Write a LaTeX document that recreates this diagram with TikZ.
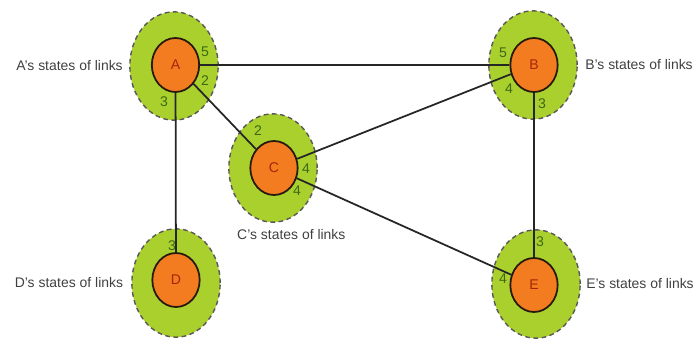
\documentclass[tikz,border=0pt]{standalone}
\usepackage{fontspec}
\setmainfont{Liberation Sans}
\usetikzlibrary{positioning,shapes.geometric}

\definecolor{ringgreen}{RGB}{170,208,46}
\definecolor{nodeorange}{RGB}{244,124,32}
\definecolor{portgreen}{RGB}{62,104,22}
\definecolor{letterred}{RGB}{160,40,12}

\begin{document}
\begin{tikzpicture}[
    x=0.03cm, y=-0.03cm,
    ring/.style={ellipse, draw=black!65, dash pattern=on 4pt off 3pt, line width=1.2pt, fill=ringgreen, minimum width=2.65cm, minimum height=3.25cm},
    router/.style={ellipse, draw=black!80!brown, fill=nodeorange, line width=1.5pt, minimum width=1.42cm, minimum height=1.62cm, inner sep=0pt, font=\fontsize{12}{14}\selectfont, text=letterred},
    port/.style={font=\fontsize{12}{14}\selectfont, text=portgreen, inner sep=0pt},
    statetext/.style={font=\fontsize{11.9}{14}\selectfont, text=black!75, inner sep=1pt},
    link/.style={line width=1.5pt, draw=black!85}
]
    \useasboundingbox (0,0) rectangle (696,339);

    % green areas round the routers
    \node[ring] (Aring) at (174,66) {};
    \node[ring] (Bring) at (533,65) {};
    \node[ring] (Cring) at (273,168) {};
    \node[ring] (Dring) at (176,283) {};
    \node[ring] (Ering) at (536,284) {};

    % routers
    \node[router] (A) at (175.5,65) {A};
    \node[router] (B) at (534,65) {B};
    \node[router] (C) at (274,168) {C};
    \node[router] (D) at (176,280) {D};
    \node[router] (E) at (534,285) {E};

    % links
    \draw[link] (A) -- (B);
    \draw[link] (A) -- (C);
    \draw[link] (A) -- (D);
    \draw[link] (B) -- (C);
    \draw[link] (B) -- (E);
    \draw[link] (C) -- (E);

    % link costs
    \node[port] (A5) at (205,52) {5};
    \node[port] (A2) at (205,81) {2};
    \node[port] (A3) at (164,102) {3};
    \node[port] (B5) at (503,53) {5};
    \node[port] (B4) at (509,89) {4};
    \node[port] (B3) at (542,104) {3};
    \node[port] (C2) at (258,131) {2};
    \node[port] (C4a) at (306,169) {4};
    \node[port] (C4b) at (297,191) {4};
    \node[port] (D3) at (172,246) {3};
    \node[port] (E3) at (540,242) {3};
    \node[port] (E4) at (503,279) {4};

    % captions
    \node[statetext, left=0.15cm of Aring] (Atext) {A's states of links};
    \node[statetext, right=0.18cm of Bring] (Btext) {B's states of links};
    \node[statetext, below=0.15cm of Cring, xshift=0.55cm] (Ctext) {C's states of links};
    \node[statetext, left=0.2cm of Dring] (Dtext) {D's states of links};
    \node[statetext, right=0.12cm of Ering] (Etext) {E's states of links};
\end{tikzpicture}
\end{document}
